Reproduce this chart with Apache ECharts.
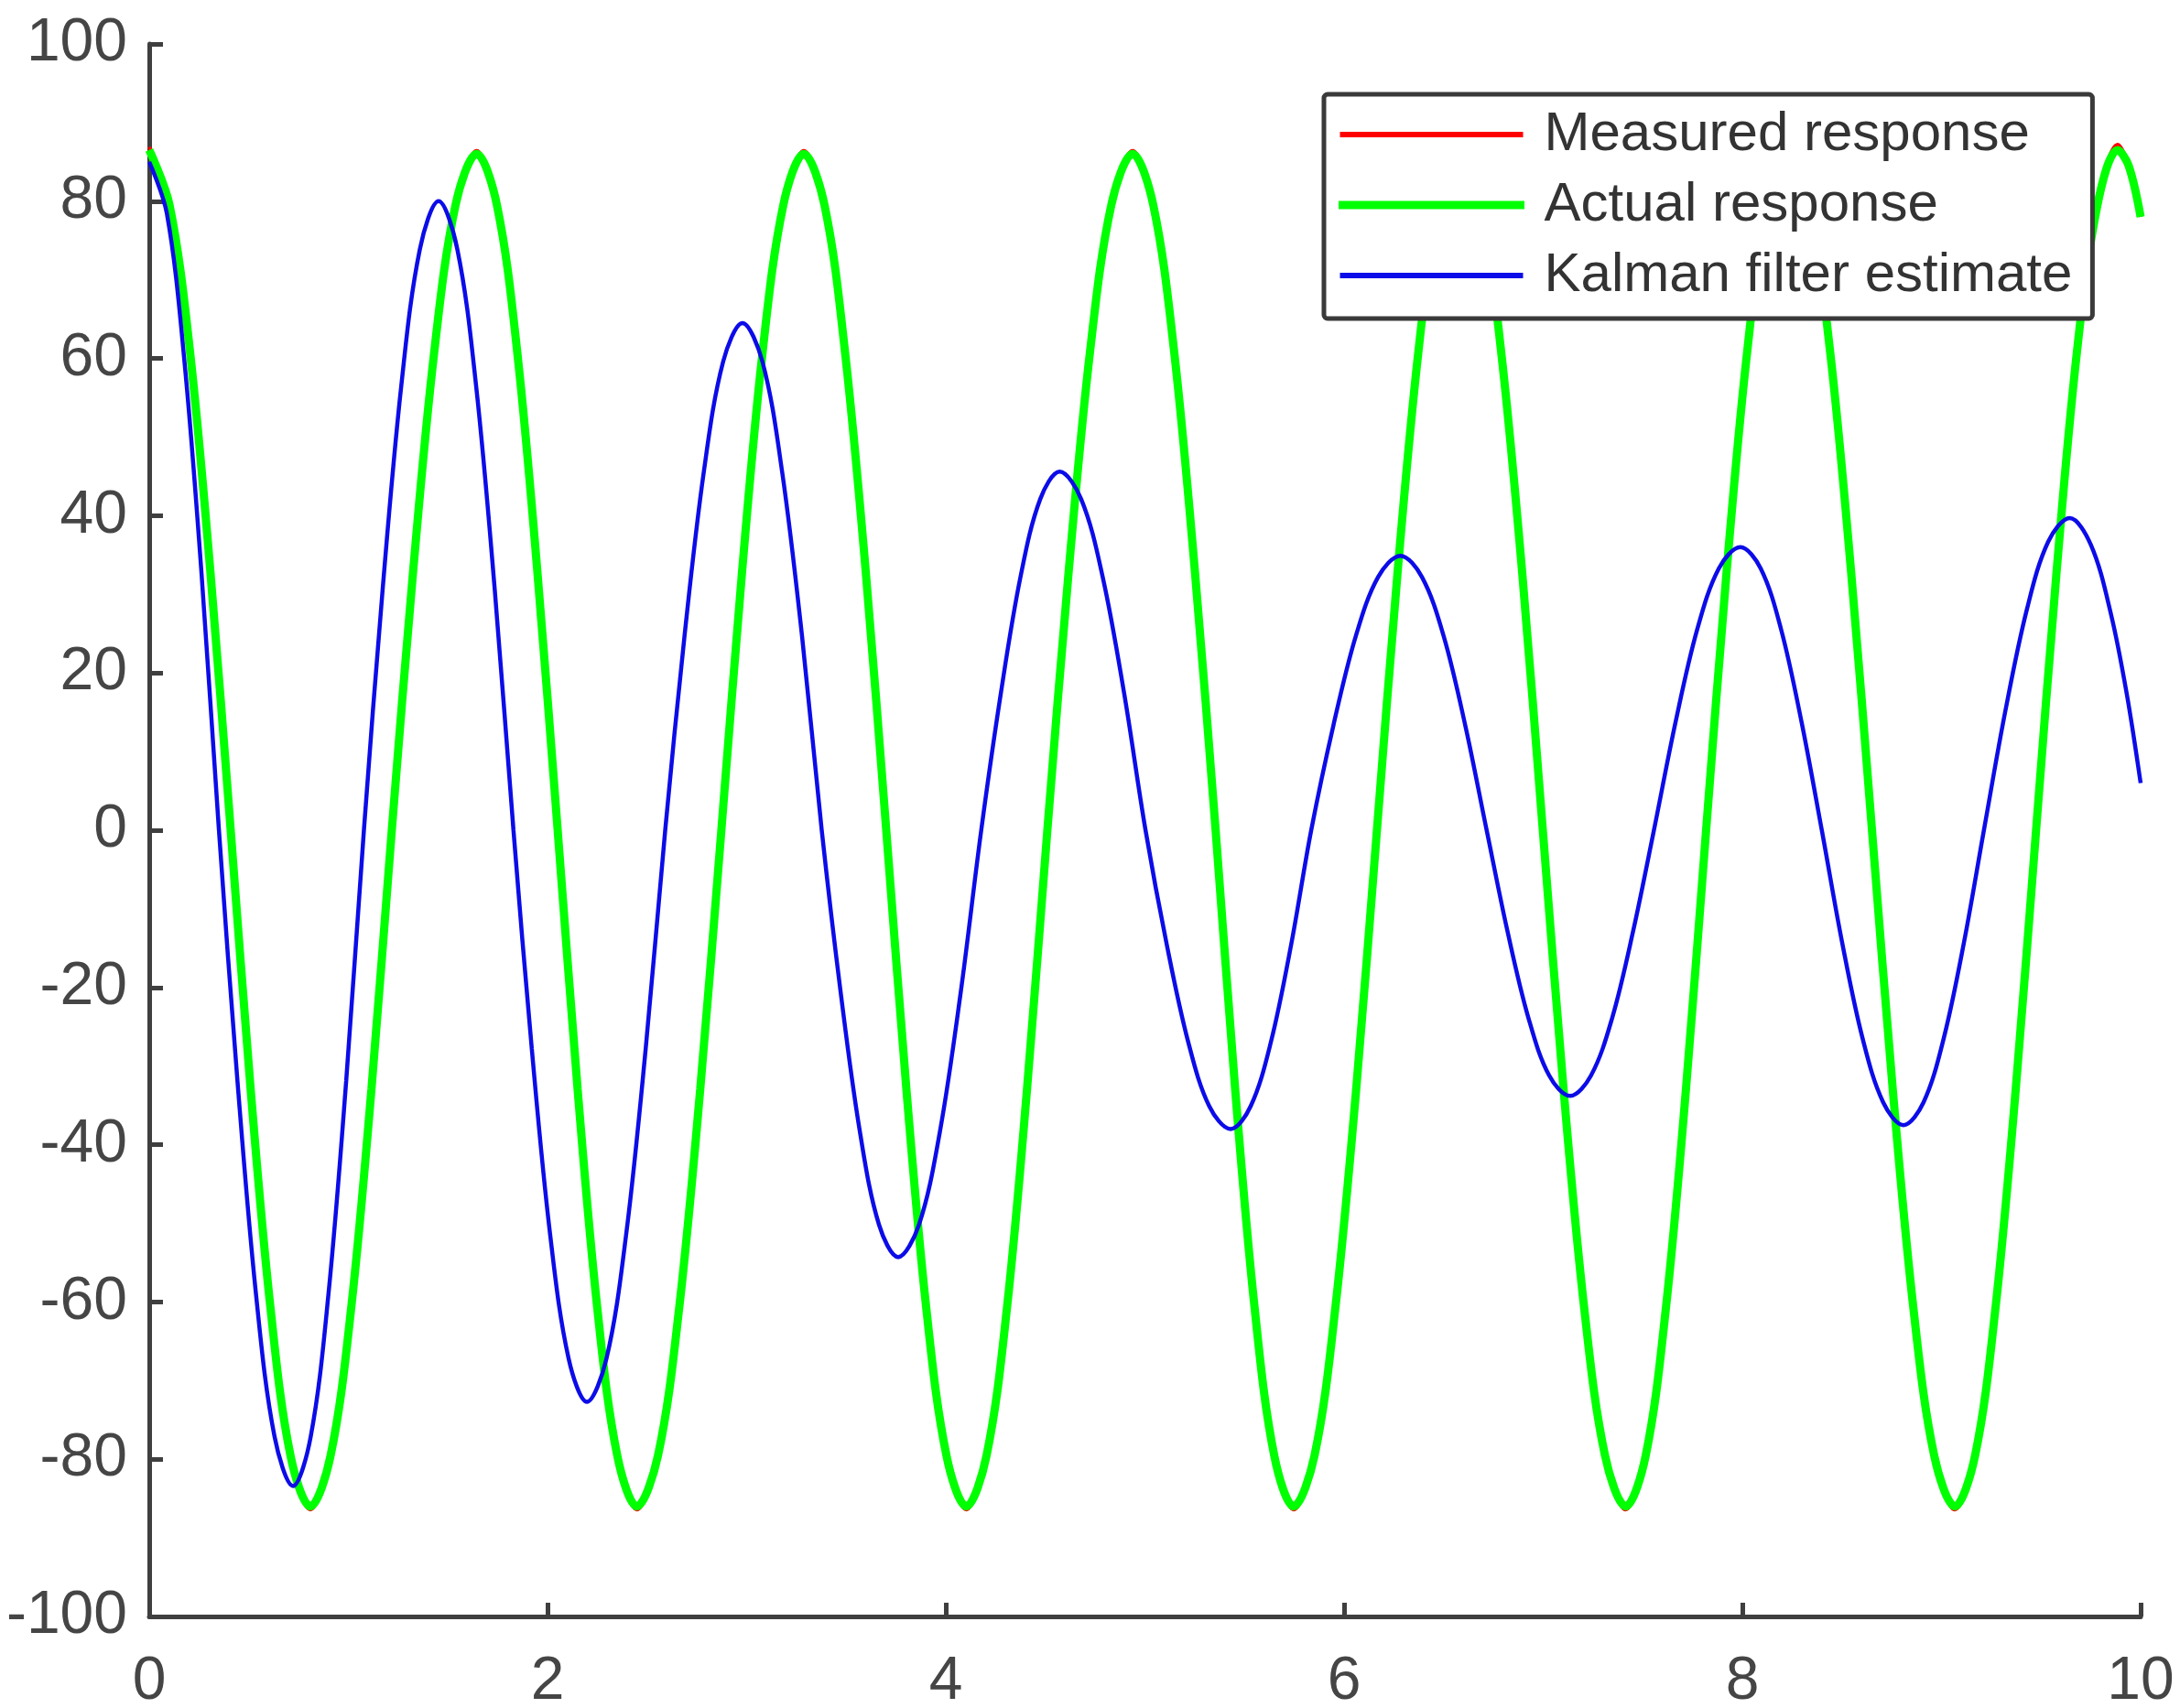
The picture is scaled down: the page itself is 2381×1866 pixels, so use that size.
<!DOCTYPE html>
<html>
<head>
<meta charset="utf-8">
<script src="https://cdn.jsdelivr.net/npm/echarts@6/dist/echarts.min.js"></script>
<style>
  html, body { margin: 0; padding: 0; background: #ffffff; }
  #chart { width: 2381px; height: 1866px; }
</style>
</head>
<body>
<div id="chart"></div>
<script>
// ---- Data ----
const seriesNames = ['Measured response', 'Actual response', 'Kalman filter estimate'];

// Actual response (green): time and value
const actualT = [0,0.102,0.205,0.307,0.409,0.509,0.609,0.709,0.809,0.911,1.014,1.116,1.218,1.325,1.431,1.538,1.644,1.746,1.848,1.949,2.051,2.151,2.250,2.350,2.449,2.555,2.661,2.767,2.873,2.977,3.080,3.184,3.287,3.391,3.494,3.598,3.701,3.802,3.902,4.003,4.103,4.205,4.307,4.408,4.510,4.617,4.724,4.831,4.938,5.042,5.147,5.251,5.355,5.453,5.551,5.649,5.747,5.852,5.956,6.061,6.165,6.269,6.373,6.476,6.580,6.685,6.789,6.894,6.998,7.102,7.206,7.310,7.414,7.515,7.616,7.717,7.818,7.921,8.024,8.127,8.230,8.335,8.441,8.546,8.651,8.755,8.859,8.963,9.067,9.169,9.271,9.373,9.475,9.578,9.680,9.783,9.885,9.940,10.000];
const actualY = [86.5,79.5,60.8,32.9,0,-32.9,-60.8,-79.5,-86,-79.5,-60.8,-32.9,0,32.9,60.8,79.5,
                 86,79.5,60.8,32.9,0,-32.9,-60.8,-79.5,-86,-79.5,-60.8,-32.9,0,32.9,60.8,79.5,
                 86,79.5,60.8,32.9,0,-32.9,-60.8,-79.5,-86,-79.5,-60.8,-32.9,0,32.9,60.8,79.5,
                 86,79.5,60.8,32.9,0,-32.9,-60.8,-79.5,-86,-79.5,-60.8,-32.9,0,32.9,60.8,79.5,
                 86,79.5,60.8,32.9,0,-32.9,-60.8,-79.5,-86,-79.5,-60.8,-32.9,0,32.9,60.8,79.5,
                 86,79.5,60.8,32.9,0,-32.9,-60.8,-79.5,-86,-79.5,-60.8,-32.9,0,32.9,60.8,79.5,
                 86.5,84.5,78];

// Measured response (red): same sample times, almost entirely hidden under the green line
const measuredY = [86.9,79.6,60.8,32.9,0,-32.9,-60.8,-79.6,-86.4,-79.6,-60.8,-32.9,0,32.9,60.8,79.6,
                   86.4,79.6,60.8,32.9,0,-32.9,-60.8,-79.6,-86.4,-79.6,-60.8,-32.9,0,32.9,60.8,79.6,
                   86.4,79.6,60.8,32.9,0,-32.9,-60.8,-79.6,-86.4,-79.6,-60.8,-32.9,0,32.9,60.8,79.6,
                   86.4,79.6,60.8,32.9,0,-32.9,-60.8,-79.6,-86.4,-79.6,-60.8,-32.9,0,32.9,60.8,79.6,
                   86.4,79.6,60.8,32.9,0,-32.9,-60.8,-79.6,-86.4,-79.6,-60.8,-32.9,0,32.9,60.8,79.6,
                   86.4,79.6,60.8,32.9,0,-32.9,-60.8,-79.6,-86.4,-79.6,-60.8,-32.9,0,32.9,60.8,79.6,
                   87.2,84.6,78];

// Kalman filter estimate (blue)
const kalmanT = [0,0.088,0.175,0.263,0.350,0.443,0.536,0.629,0.722,0.811,0.900,0.989,1.078,1.172,1.266,1.359,1.453,1.547,1.641,1.735,1.829,1.921,2.013,2.106,2.198,2.296,2.395,2.493,2.591,2.688,2.785,2.882,2.979,3.079,3.178,3.278,3.377,3.473,3.569,3.665,3.761,3.865,3.970,4.074,4.178,4.277,4.375,4.474,4.572,4.680,4.788,4.895,5.003,5.110,5.217,5.323,5.430,5.531,5.633,5.734,5.835,5.947,6.059,6.171,6.283,6.391,6.500,6.608,6.716,6.821,6.926,7.030,7.135,7.240,7.346,7.451,7.556,7.665,7.773,7.882,7.990,8.092,8.195,8.297,8.399,8.502,8.604,8.707,8.809,8.910,9.011,9.112,9.213,9.321,9.429,9.536,9.644,9.750,9.850,9.930,10.000];
const kalmanY = [85,78.5,60.1,32.5,0,-31.9,-59.0,-77.1,-83.4,-77.1,-59.0,-31.9,0,30.6,56.6,73.9,
                 80,73.9,56.6,30.6,0,-27.8,-51.4,-67.2,-72.7,-67.2,-51.4,-27.8,0,24.7,45.6,59.6,
                 64.5,59.6,45.6,24.7,0,-20.8,-38.4,-50.2,-54.3,-50.2,-38.4,-20.8,0,17.5,32.2,42.1,
                 45.6,42.1,32.2,17.5,0,-14.6,-26.9,-35.1,-38,-35.1,-26.9,-14.6,0,13.4,24.7,32.2,
                 34.9,32.2,24.7,13.4,0,-12.9,-23.9,-31.2,-33.8,-31.2,-23.9,-12.9,0,13.8,25.5,33.3,
                 36,33.3,25.5,13.8,0,-14.4,-26.5,-34.6,-37.5,-34.6,-26.5,-14.4,0,15.2,28.1,36.7,
                 39.7,36.3,27.6,17.4,6];

// Axis ticks
const xTicks = [0, 2, 4, 6, 8, 10];
const yTicks = [-100, -80, -60, -40, -20, 0, 20, 40, 60, 80, 100];

// ---- Build chart ----
function zip(ts, ys) { return ts.map((t, i) => [t, ys[i]]); }

const axisColor = '#3f3f3f';
const labelColor = '#454545';
const fontFam = '"Liberation Sans", Arial, Helvetica, sans-serif';
const SMOOTH = 0.35;

const chart = echarts.init(document.getElementById('chart'), null, { renderer: 'canvas' });
chart.setOption({
  animation: false,
  backgroundColor: '#ffffff',
  grid: {
    left: 163, top: 48, right: 43, bottom: 100,
    containLabel: false,
    outerBoundsMode: 'none'
  },
  xAxis: {
    type: 'value',
    min: xTicks[0], max: xTicks[xTicks.length - 1], interval: xTicks[1] - xTicks[0],
    splitLine: { show: false },
    axisLine: { onZero: false, lineStyle: { color: axisColor, width: 5 } },
    axisTick: { inside: true, length: 15, lineStyle: { color: axisColor, width: 5 } },
    axisLabel: { margin: 39, fontSize: 66, lineHeight: 66, color: labelColor, fontFamily: fontFam,
                 showMinLabel: true, showMaxLabel: true }
  },
  yAxis: {
    type: 'value',
    min: yTicks[0], max: yTicks[yTicks.length - 1], interval: yTicks[1] - yTicks[0],
    splitLine: { show: false },
    axisLine: { onZero: false, lineStyle: { color: axisColor, width: 5 } },
    axisTick: { inside: true, length: 15, lineStyle: { color: axisColor, width: 5 } },
    axisLabel: { margin: 24, fontSize: 66, color: labelColor, fontFamily: fontFam,
                 showMinLabel: true, showMaxLabel: true }
  },
  legend: {
    orient: 'vertical',
    left: 1446, top: 103,
    padding: [14, 22, 17, 16],
    backgroundColor: '#ffffff',
    borderColor: '#3a3a3a',
    borderWidth: 5,
    borderRadius: 4,
    itemGap: 17,
    itemWidth: 200,
    itemHeight: 6,
    icon: 'rect',
    selectedMode: false,
    textStyle: { fontSize: 60, lineHeight: 60, color: '#333333', fontFamily: fontFam, padding: [0, 0, 0, 18] },
    data: [
      { name: seriesNames[0] },
      { name: seriesNames[1], itemStyle: { borderWidth: 3, borderColor: '#00ff00' } },
      { name: seriesNames[2] }
    ],
    z: 10
  },
  series: [
    {
      name: seriesNames[0], type: 'line', data: zip(actualT, measuredY),
      symbol: 'none', showSymbol: false, smooth: SMOOTH,
      color: '#ff0000', lineStyle: { color: '#ff0000', width: 4 }, z: 2
    },
    {
      name: seriesNames[1], type: 'line', data: zip(actualT, actualY),
      symbol: 'none', showSymbol: false, smooth: SMOOTH,
      color: '#00ff00', lineStyle: { color: '#00ff00', width: 9 }, z: 3
    },
    {
      name: seriesNames[2], type: 'line', data: zip(kalmanT, kalmanY),
      symbol: 'none', showSymbol: false, smooth: SMOOTH,
      color: '#0c0ce8', lineStyle: { color: '#0c0ce8', width: 4.5 }, z: 4
    }
  ]
});
</script>
</body>
</html>
